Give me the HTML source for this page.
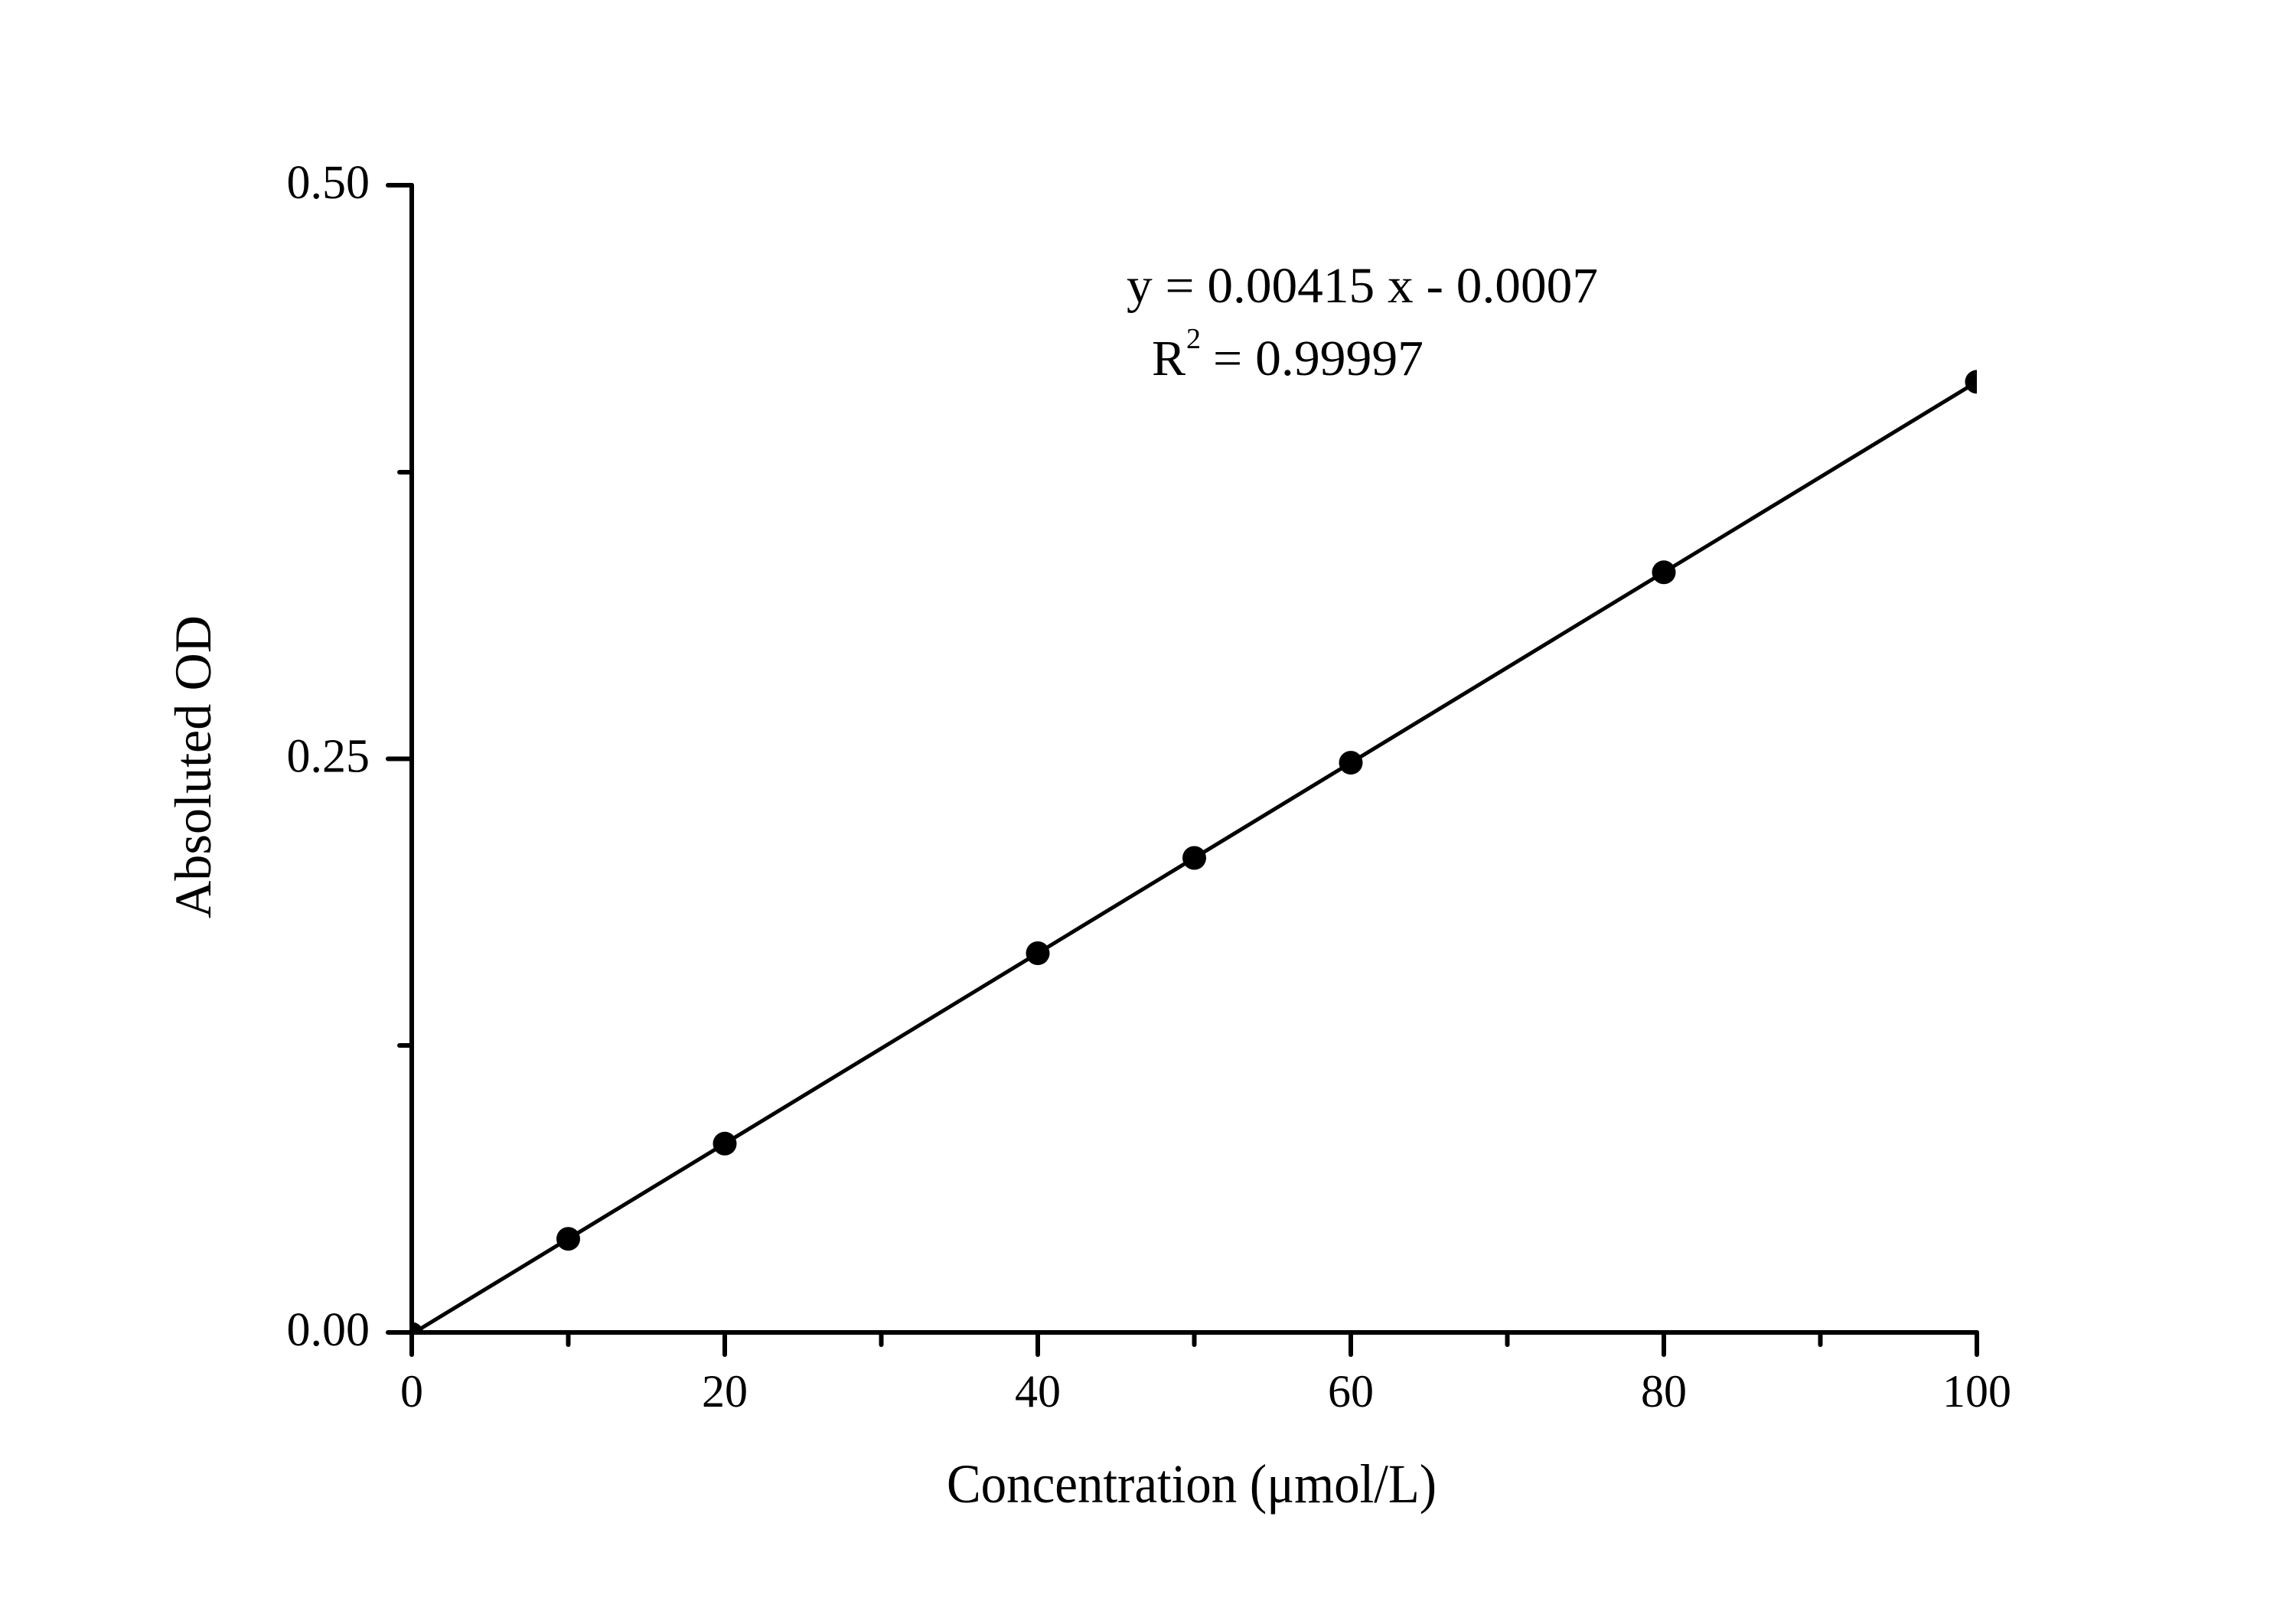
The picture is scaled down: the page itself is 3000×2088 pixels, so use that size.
<!DOCTYPE html>
<html><head><meta charset="utf-8"><style>html,body{margin:0;padding:0;background:#fff}svg{display:block}</style></head>
<body>
<svg width="3000" height="2088" viewBox="0 0 3000 2088" xmlns="http://www.w3.org/2000/svg" font-family="'Liberation Serif', serif" fill="#000">
<defs><clipPath id="c"><rect x="538" y="200" width="2045" height="1541"/></clipPath></defs>
<g stroke="#000" stroke-width="6" stroke-linecap="round" fill="none">
<line x1="538" y1="242" x2="538" y2="1770"/>
<line x1="507" y1="1741" x2="2583" y2="1741"/>
<line x1="507" y1="242" x2="538" y2="242"/>
<line x1="507" y1="991.5" x2="538" y2="991.5"/>
<line x1="522" y1="617" x2="538" y2="617"/>
<line x1="522" y1="1366" x2="538" y2="1366"/>
<line x1="947" y1="1741" x2="947" y2="1770"/>
<line x1="1356" y1="1741" x2="1356" y2="1770"/>
<line x1="1765" y1="1741" x2="1765" y2="1770"/>
<line x1="2174" y1="1741" x2="2174" y2="1770"/>
<line x1="2583" y1="1741" x2="2583" y2="1770"/>
<line x1="742.5" y1="1741" x2="742.5" y2="1757"/>
<line x1="1151.5" y1="1741" x2="1151.5" y2="1757"/>
<line x1="1560.5" y1="1741" x2="1560.5" y2="1757"/>
<line x1="1969.5" y1="1741" x2="1969.5" y2="1757"/>
<line x1="2378.5" y1="1741" x2="2378.5" y2="1757"/>
</g>
<g clip-path="url(#c)">
<line x1="538" y1="1743.1" x2="2583" y2="498.9" stroke="#000" stroke-width="5"/>
<circle cx="538" cy="1743" r="15.5"/>
<circle cx="742.5" cy="1618.7" r="15.5"/>
<circle cx="947" cy="1494.3" r="15.5"/>
<circle cx="1356" cy="1245.5" r="15.5"/>
<circle cx="1560.5" cy="1121" r="15.5"/>
<circle cx="1765" cy="996.6" r="15.5"/>
<circle cx="2174" cy="747.8" r="15.5"/>
<circle cx="2583" cy="498.9" r="15.5"/>
</g>
<g font-size="62" text-anchor="end">
<text x="483" y="259">0.50</text>
<text x="483" y="1008.5">0.25</text>
<text x="483" y="1758">0.00</text>
</g>
<g font-size="60" text-anchor="middle">
<text x="538" y="1838">0</text>
<text x="947" y="1838">20</text>
<text x="1356" y="1838">40</text>
<text x="1765" y="1838">60</text>
<text x="2174" y="1838">80</text>
<text x="2583" y="1838">100</text>
</g>
<text x="1237" y="1963" font-size="72" textLength="640" lengthAdjust="spacingAndGlyphs">Concentration (μmol/L)</text>
<text transform="translate(275,1200) rotate(-90)" font-size="68" textLength="396" lengthAdjust="spacingAndGlyphs">Absoluted OD</text>
<text x="1472" y="395" font-size="66" textLength="616" lengthAdjust="spacingAndGlyphs">y = 0.00415 x - 0.0007</text>
<text x="1505" y="490" font-size="66">R</text>
<text x="1550" y="455" font-size="38">2</text>
<text x="1585" y="490" font-size="66" textLength="275" lengthAdjust="spacingAndGlyphs">= 0.99997</text>
</svg>
</body></html>
